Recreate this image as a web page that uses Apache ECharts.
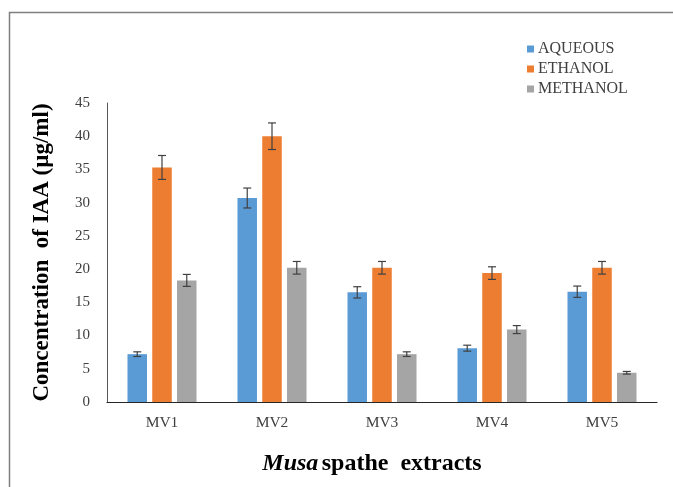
<!DOCTYPE html>
<html><head><meta charset="utf-8">
<script src="https://cdn.jsdelivr.net/npm/echarts@6/dist/echarts.min.js"></script>
<style>html,body{margin:0;padding:0;background:#fff}#c{width:673px;height:487px}</style>
</head><body><div id="c"></div>
<script>
const categories = ['MV1','MV2','MV3','MV4','MV5'];
const seriesNames = ['AQUEOUS','ETHANOL','METHANOL'];
const aqueous  = [7.2, 30.7, 16.5, 8.1, 16.6];
const ethanol  = [35.3, 40.0, 20.2, 19.4, 20.2];
const methanol = [18.3, 20.2, 7.2, 10.9, 4.4];
const aqueousErr  = [0.35, 1.5, 0.85, 0.45, 0.85];
const ethanolErr  = [1.8, 2.0, 0.95, 0.95, 0.95];
const methanolErr = [0.9, 0.95, 0.35, 0.6, 0.2];
const yTicks = [0,5,10,15,20,25,30,35,40,45];

const colors = ['#5B9BD5','#ED7D31','#A5A5A5'];
const values = [aqueous, ethanol, methanol];
const errs = [aqueousErr, ethanolErr, methanolErr];
const BAR_W = 19.5, GAP = 0.27;
const FONT = '"Liberation Serif","Times New Roman",serif';

const chart = echarts.init(document.getElementById('c'));
const series = [];
values.forEach((v, i) => {
  series.push({
    name: seriesNames[i], type: 'bar', data: v, barWidth: BAR_W, barGap: (GAP*100)+'%',
    itemStyle: {color: colors[i]}
  });
});
values.forEach((v, i) => {
  series.push({
    type: 'custom', name: 'err'+i, z: 10, silent: true,
    data: v.map((val, j) => [j, val - errs[i][j], val + errs[i][j]]),
    renderItem: function (params, api) {
      const lo = api.coord([api.value(0), api.value(1)]);
      const hi = api.coord([api.value(0), api.value(2)]);
      const off = (i - 1) * BAR_W * (1 + GAP);
      const x = lo[0] + off, cap = 4;
      const st = {stroke: '#404040', lineWidth: 1.2};
      return {type: 'group', children: [
        {type: 'line', shape: {x1: x, y1: lo[1], x2: x, y2: hi[1]}, style: st},
        {type: 'line', shape: {x1: x-cap, y1: lo[1], x2: x+cap, y2: lo[1]}, style: st},
        {type: 'line', shape: {x1: x-cap, y1: hi[1], x2: x+cap, y2: hi[1]}, style: st}
      ]};
    }
  });
});

chart.setOption({
  animation: false,
  graphic: [{type: 'rect', left: 7, top: 10, shape: {width: 720, height: 520},
    style: {fill: 'none', stroke: '#7f7f7f', lineWidth: 1.5}, silent: true}],
  legend: {
    data: seriesNames, orient: 'vertical', left: 522, top: 36,
    itemWidth: 7, itemHeight: 7, itemGap: 4, icon: 'rect',
    textStyle: {fontFamily: FONT, fontSize: 16, color: '#404040', padding: [0,0,0,-1]}
  },
  grid: {left: 107, right: 16, top: 103, bottom: 85},
  xAxis: {
    type: 'category', data: categories,
    axisLine: {lineStyle: {color: '#262626', width: 1.2}},
    axisTick: {show: false},
    axisLabel: {fontFamily: FONT, fontSize: 15.5, color: '#404040', margin: 13},
    name: '{i|Musa} {b|spathe  extracts}', nameLocation: 'middle', nameGap: 50,
    nameTextStyle: {padding: [0, 20, 0, 0], rich: {
      i: {fontFamily: FONT, fontSize: 24, fontWeight: 'bold', fontStyle: 'italic', color: '#000'},
      b: {fontFamily: FONT, fontSize: 24, fontWeight: 'bold', color: '#000'}
    }}
  },
  yAxis: {
    type: 'value', min: yTicks[0], max: yTicks[yTicks.length-1], interval: 5,
    splitLine: {show: false},
    axisLine: {show: true, lineStyle: {color: '#595959', width: 1}},
    axisTick: {show: false},
    axisLabel: {fontFamily: FONT, fontSize: 15, color: '#404040', margin: 17},
    name: 'Concentration  of IAA (µg/ml)', nameLocation: 'middle', nameGap: 53,
    nameTextStyle: {fontFamily: FONT, fontSize: 23, fontWeight: 'bold', color: '#000'}
  },
  series: series
});
</script></body></html>
